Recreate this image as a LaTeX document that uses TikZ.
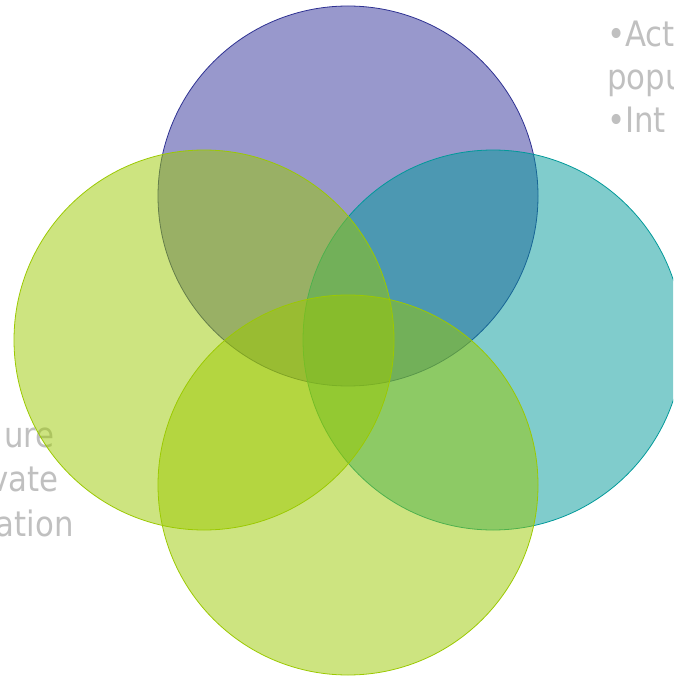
\documentclass[tikz,border=0pt]{standalone}
\usepackage{fontspec}
\setmainfont[FakeStretch=0.88]{DejaVu Sans}
\definecolor{capgray}{RGB}{192,192,192}
\definecolor{venpurple}{RGB}{49,49,153}
\definecolor{venpurpleline}{RGB}{46,49,146}
\definecolor{vengreen}{RGB}{155,201,1}
\definecolor{venteal}{RGB}{1,153,153}
\begin{document}
\begin{tikzpicture}[x=1pt,y=-1pt,
  caption/.style={text=capgray,font=\fontsize{35}{43}\selectfont,inner sep=0pt},
  petal/.style={circle,minimum size=380pt,inner sep=0pt,fill opacity=0.5,line width=0.8pt}]
\useasboundingbox (0,0) rectangle (673,676);
\clip (0,0) rectangle (673,676);
% side captions, partly cut by the frame
\node[caption,anchor=base west] (t1) at (607,47) {•Act};
\node[caption,anchor=base west] (t2) at (607,90) {popu};
\node[caption,anchor=base west] (t3) at (607,133) {•Int};
\node[caption,anchor=base east] (l1) at (55,447) {ure};
\node[caption,anchor=base east] (l2) at (59,491) {vate};
\node[caption,anchor=base east] (l3) at (74,536) {ation};
% four overlapping circles
\node[petal,fill=venpurple,draw=venpurpleline] (top) at (348,196) {};
\node[petal,fill=venteal,draw=venteal] (right) at (493,340) {};
\node[petal,fill=vengreen,draw=vengreen] (left) at (204,340) {};
\node[petal,fill=vengreen,draw=vengreen] (bottom) at (348,485) {};
\end{tikzpicture}
\end{document}
